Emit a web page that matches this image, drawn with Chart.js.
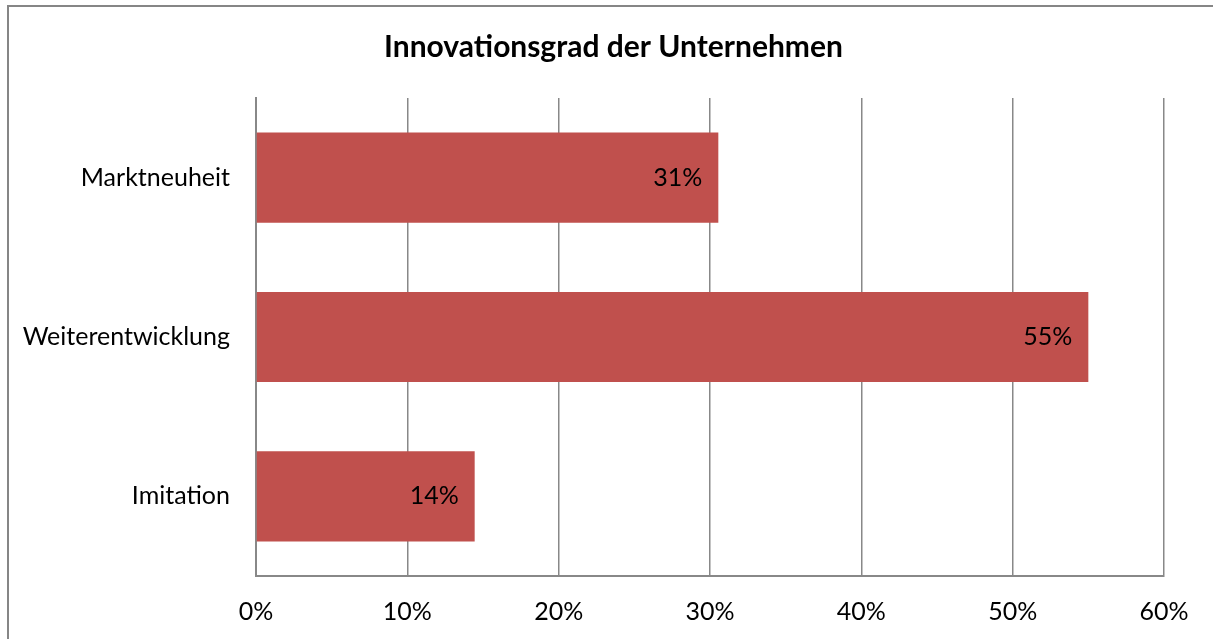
<!DOCTYPE html>
<html>
<head>
<meta charset="utf-8">
<script src="https://cdn.jsdelivr.net/npm/chart.js@4/dist/chart.umd.min.js"></script>
<style>
  html, body { margin: 0; padding: 0; background: #fff; overflow: hidden; }
  #wrap { position: absolute; left: 0; top: 0; width: 1213px; height: 639px; }
</style>
</head>
<body>
<div id="wrap"><canvas id="c" width="1213" height="639"></canvas></div>
<script>
const chartTitle = "Innovationsgrad der Unternehmen";
const categories = ["Marktneuheit", "Weiterentwicklung", "Imitation"];
const values = [30.55, 55.0, 14.45];
const valueLabels = ["31%", "55%", "14%"];
const axisMin = 0;
const axisMax = 60;
const axisStep = 10;

const FONT = "Lato, 'Open Sans', sans-serif";
const GRAY = "#888888";

const frameAndLabels = {
  id: "frameAndLabels",
  afterDatasetsDraw(chart) {
    const ctx = chart.ctx;
    const meta = chart.getDatasetMeta(0);
    ctx.save();
    ctx.font = "25px " + FONT;
    ctx.fillStyle = "#000";
    ctx.textAlign = "right";
    ctx.textBaseline = "middle";
    meta.data.forEach((el, i) => {
      ctx.fillText(valueLabels[i], el.x - 16, el.y);
    });
    ctx.restore();
  },
  afterDraw(chart) {
    const ctx = chart.ctx;
    ctx.save();
    // title
    ctx.font = "bold 30px " + FONT;
    ctx.fillStyle = "#000";
    ctx.textAlign = "center";
    ctx.textBaseline = "middle";
    ctx.fillText(chartTitle, 613.5, 47);
    // outer frame
    ctx.strokeStyle = "#868686";
    ctx.lineWidth = 2;
    ctx.beginPath();
    ctx.moveTo(8, chart.height + 10);
    ctx.lineTo(8, 6);
    ctx.lineTo(chart.width + 10, 6);
    ctx.stroke();
    ctx.restore();
  }
};

new Chart(document.getElementById("c"), {
  type: "bar",
  data: {
    labels: categories,
    datasets: [{
      data: values,
      backgroundColor: "#C0504D",
      borderWidth: 0,
      categoryPercentage: 1.0,
      barPercentage: 0.566
    }]
  },
  options: {
    indexAxis: "y",
    responsive: false,
    animation: false,
    devicePixelRatio: 1,
    layout: { padding: { left: 0, right: 49, top: 98, bottom: 0 } },
    plugins: {
      legend: { display: false },
      tooltip: { enabled: false },
      title: { display: false }
    },
    scales: {
      x: {
        min: axisMin,
        max: axisMax,
        ticks: {
          stepSize: axisStep,
          color: "#000",
          font: { family: FONT, size: 25 },
          padding: 21,
          callback: (v) => v + "%"
        },
        grid: { color: GRAY, lineWidth: 1.5, drawTicks: false },
        border: { display: true, color: GRAY, width: 2 },
        afterFit: (s) => { s.height = 63; }
      },
      y: {
        ticks: {
          color: "#000",
          font: { family: FONT, size: 25 },
          padding: 26
        },
        grid: { drawOnChartArea: false, drawTicks: false },
        border: { display: true, color: GRAY, width: 2 },
        afterFit: (s) => { s.width = 256; }
      }
    }
  },
  plugins: [frameAndLabels]
});
</script>
</body>
</html>
